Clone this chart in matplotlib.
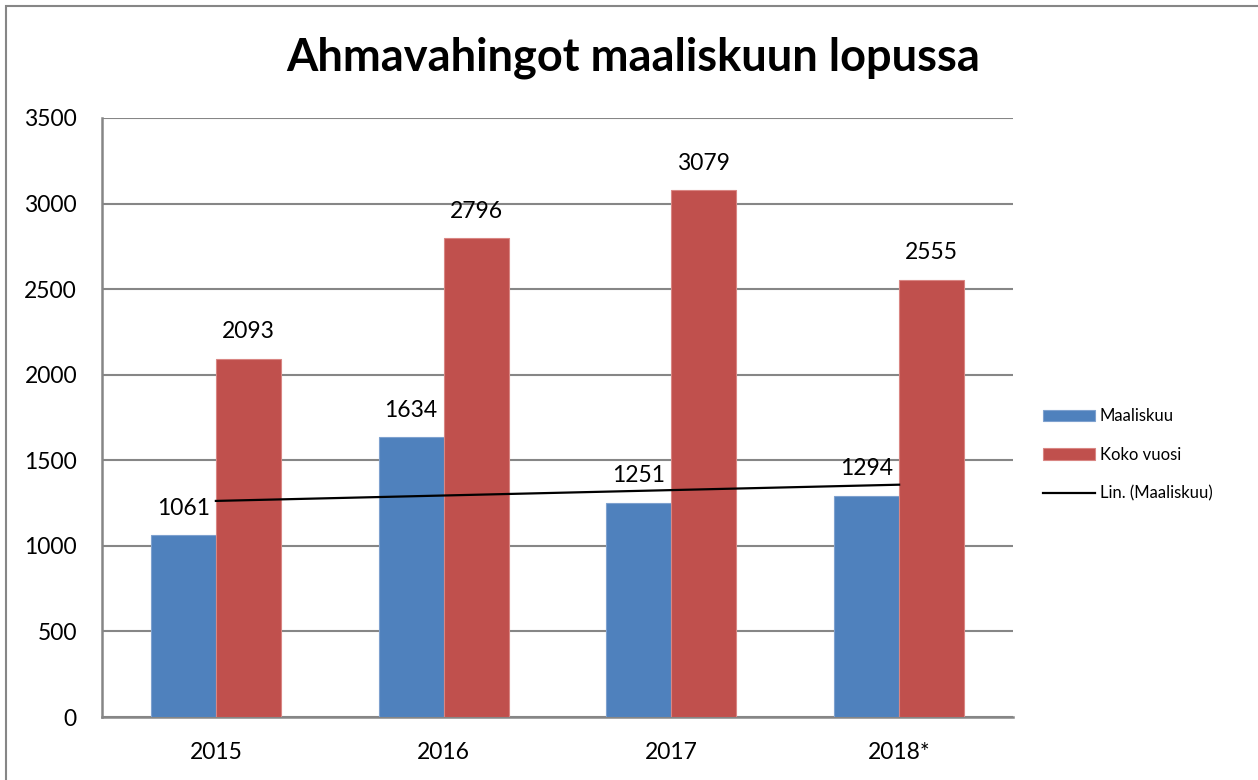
import numpy as np
import matplotlib.pyplot as plt
from matplotlib.patches import Rectangle

years = ["2015", "2016", "2017", "2018*"]
maaliskuu = [1061, 1634, 1251, 1294]
koko_vuosi = [2093, 2796, 3079, 2555]

title = "Ahmavahingot maaliskuun lopussa"
labels = ["Maaliskuu", "Koko vuosi", "Lin. (Maaliskuu)"]

blue = "#4F81BD"
red = "#C0504D"
grid_col = "#868686"

plt.rcParams["font.family"] = ["Lato", "DejaVu Sans"]

fig = plt.figure(figsize=(12.58, 7.8), dpi=100)
ax = fig.add_axes([102 / 1258, 1 - 717 / 780, (1013 - 102) / 1258, (717 - 118) / 780])

x = np.arange(len(years))
w = 0.285
b1 = ax.bar(x - w / 2, maaliskuu, w, color=blue, edgecolor="#7EA1CF", linewidth=0.8, label=labels[0], zorder=3)
b2 = ax.bar(x + w / 2, koko_vuosi, w, color=red, edgecolor="#D98683", linewidth=0.8, label=labels[1], zorder=3)

# linear trend of Maaliskuu
k, c = np.polyfit(x, maaliskuu, 1)
ln, = ax.plot(x, k * x + c, color="black", lw=1.6, label=labels[2], zorder=4)

for bars, vals in ((b1, maaliskuu), (b2, koko_vuosi)):
    for bar, v in zip(bars, vals):
        ax.annotate(str(v), (bar.get_x() + bar.get_width() / 2, v),
                    xytext=(0, 27), textcoords="offset pixels",
                    ha="center", va="center", fontsize=16.5, zorder=5)

ax.set_xlim(-0.5, len(years) - 0.5)
ax.set_ylim(0, 3500)
ax.set_yticks(np.arange(0, 3501, 500))
ax.set_xticks(x)
ax.set_xticklabels(years)
ax.tick_params(length=0, labelsize=16.5)
ax.tick_params(axis="y", pad=18)
ax.tick_params(axis="x", pad=18)
ax.yaxis.grid(True, color=grid_col, lw=1.5, zorder=0)
ax.set_axisbelow(True)
for s in ("top", "right"):
    ax.spines[s].set_visible(False)
for s in ("left", "bottom"):
    ax.spines[s].set_color(grid_col)
    ax.spines[s].set_linewidth(1.8)

fig.text(633 / 1258, 1 - 58 / 780, title, ha="center", va="center",
         fontsize=32.5, fontweight="bold")

fig.legend(handles=[b1, b2, ln], labels=labels, loc="center left",
           bbox_to_anchor=(1043 / 1258, 1 - 455 / 780), frameon=False,
           fontsize=12, handlelength=3.1, handletextpad=0.3,
           labelspacing=1.35, borderpad=0, borderaxespad=0)

# outer chart frame
fig.patches.append(Rectangle((6 / 1258, -0.1), 1.2, 1 - 6 / 780 + 0.1,
                             transform=fig.transFigure, fill=False,
                             edgecolor=grid_col, lw=1.5))

fig.savefig("out.png", dpi=100)
